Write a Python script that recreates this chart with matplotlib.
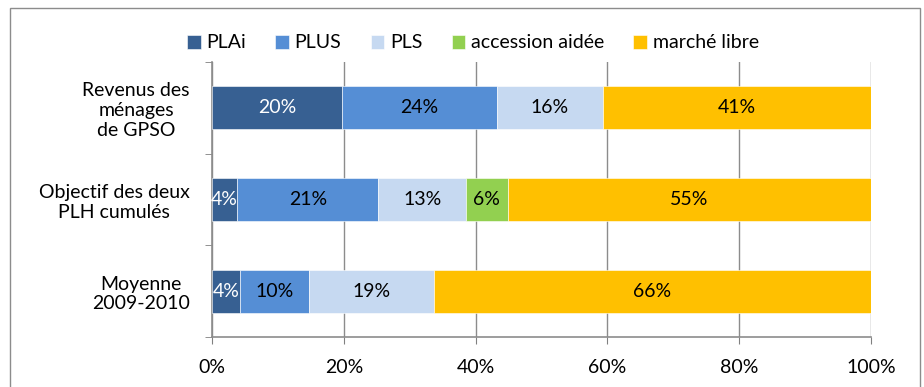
import numpy as np
import matplotlib.pyplot as plt
from matplotlib.patches import Rectangle

plt.rcParams['font.family'] = ['Lato', 'DejaVu Sans']

# categories (top to bottom)
categories = ["Revenus des\nménages\nde GPSO", "Objectif des deux\nPLH cumulés", "Moyenne\n2009-2010"]
series = ["PLAi", "PLUS", "PLS", "accession aidée", "marché libre"]
# shares in %
plai = [19.7, 3.85, 4.3]
plus = [23.5, 21.4, 10.4]
pls = [16.1, 13.3, 19.0]
accession = [0.0, 6.3, 0.0]
marche = [40.7, 55.1, 66.3]
colors = ["#376092", "#558ED5", "#C6D9F1", "#92D050", "#FFC000"]
text_colors = ["white", "black", "black", "black", "black"]

values = [plai, plus, pls, accession, marche]
fs = 14

fig = plt.figure(figsize=(9.24, 3.87), dpi=100)
ax = fig.add_axes([212 / 924, 1 - 337 / 387, 659 / 924, 275 / 387])

y = np.arange(len(categories))[::-1]
left = np.zeros(len(categories))
for vals, name, col, tc in zip(values, series, colors, text_colors):
    vals = np.array(vals)
    ax.barh(y, vals, left=left, height=0.47, color=col, label=name,
            edgecolor="white", linewidth=0.4, zorder=3)
    for yi, l, v in zip(y, left, vals):
        if v > 0:
            ax.text(l + v / 2, yi, f"{round(v):.0f}%", ha="center", va="center",
                    fontsize=fs, color=tc, zorder=4)
    left += vals

ax.set_xlim(0, 100)
ax.set_ylim(-0.5, 2.5)
ax.set_xticks(np.arange(0, 101, 20))
ax.set_xticklabels([f"{t}%" for t in range(0, 101, 20)], fontsize=fs)
ax.set_yticks(y)
ax.set_yticklabels(categories, fontsize=fs, multialignment="center")
ax.set_yticks([-0.5, 0.5, 1.5, 2.5], minor=True)
ax.tick_params(axis="y", which="major", length=0, pad=16)
ax.tick_params(axis="y", which="minor", length=5, color="#808080")
ax.tick_params(axis="x", length=5, color="#808080", pad=11)
ax.grid(axis="x", color="#8c8c8c", linewidth=1, zorder=0)
for s in ["top", "right"]:
    ax.spines[s].set_visible(False)
for s in ["left", "bottom"]:
    ax.spines[s].set_color("#8c8c8c")
    ax.spines[s].set_linewidth(1.2)

fig.legend(loc="center", bbox_to_anchor=(473 / 924, 1 - 43 / 387), ncol=5,
           frameon=False, fontsize=fs, handlelength=0.7, handleheight=0.7,
           handletextpad=0.3, columnspacing=1.5)

fig.patches.append(Rectangle((10 / 924, -0.01), 910 / 924, 1 - 8 / 387 + 0.01,
                             transform=fig.transFigure, fill=False,
                             edgecolor="#8c8c8c", linewidth=1))

plt.savefig("out.png", dpi=100)
